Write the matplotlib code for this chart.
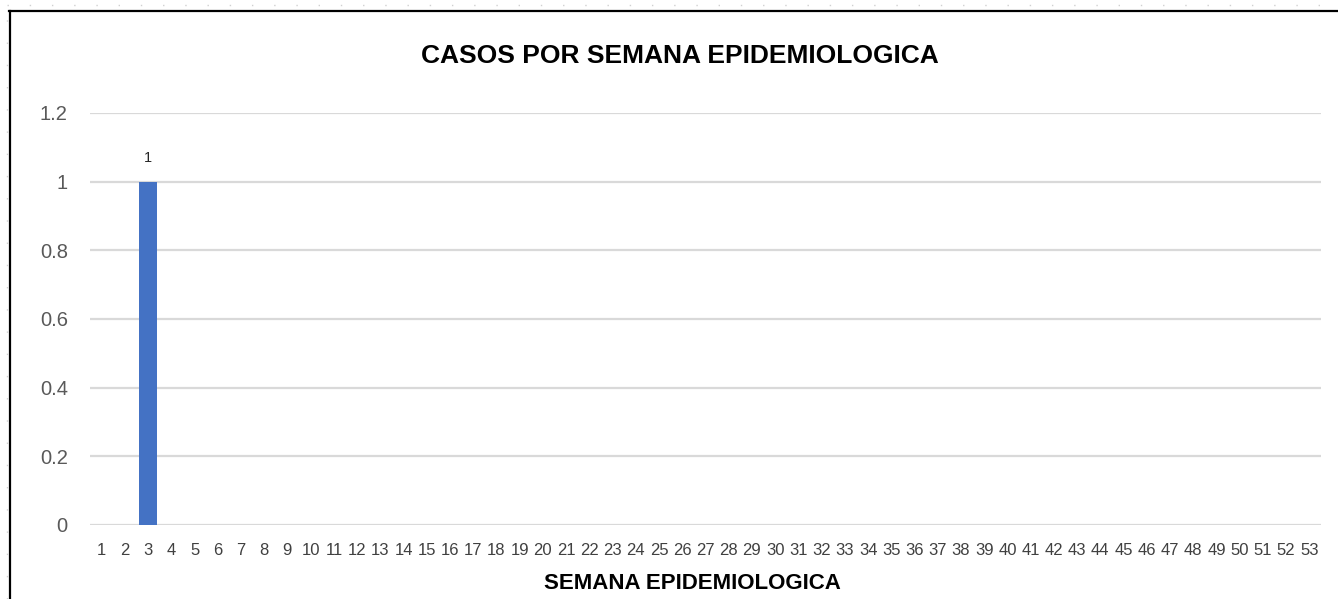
import matplotlib.pyplot as plt
from matplotlib.lines import Line2D

# casos confirmados por semana epidemiologica
semanas = [str(s) for s in range(1, 54)]
casos = [0, 0, 1, 0, 0, 0, 0, 0, 0, 0,
         0, 0, 0, 0, 0, 0, 0, 0, 0, 0,
         0, 0, 0, 0, 0, 0, 0, 0, 0, 0,
         0, 0, 0, 0, 0, 0, 0, 0, 0, 0,
         0, 0, 0, 0, 0, 0, 0, 0, 0, 0,
         0, 0, 0]
yticks = [0, 0.2, 0.4, 0.6, 0.8, 1, 1.2]

plt.rcParams['font.family'] = ['Liberation Sans', 'DejaVu Sans']

W, H = 1338, 599
fig = plt.figure(figsize=(W / 100, H / 100), dpi=100)
ax = fig.add_axes([90 / W, 1 - 525 / H, (1321 - 90) / W, (525 - 113) / H])

x = list(range(len(semanas)))
ax.bar(x, casos, width=0.76, color='#4472c4', zorder=3)

# etiqueta de datos solo para las semanas con casos
for xi, v in zip(x, casos):
    if v > 0:
        ax.annotate(str(v), (xi, v), xytext=(0, 12), textcoords='offset points',
                    ha='center', va='bottom', fontsize=10.5, color='#262626')

ax.set_xlim(-0.5, len(semanas) - 0.5)
ax.set_ylim(0, 1.2)
ax.set_xticks(x)
ax.set_xticklabels(semanas, fontsize=12, color='#404040')
ax.set_yticks(yticks)
ax.set_yticklabels(['0', '0.2', '0.4', '0.6', '0.8', '1', '1.2'], fontsize=14.5, color='#595959')
ax.tick_params(axis='both', length=0)
ax.tick_params(axis='y', pad=16)
ax.tick_params(axis='x', pad=13)
ax.grid(axis='y', color='#d9d9d9', linewidth=1.6, zorder=0)
for s in ax.spines.values():
    s.set_visible(False)

fig.text(680 / W, 1 - 63 / H, 'CASOS POR SEMANA EPIDEMIOLOGICA', ha='center', va='baseline',
         fontsize=19, fontweight='bold', color='black')
fig.text(692 / W, 1 - 589 / H, 'SEMANA EPIDEMIOLOGICA', ha='center', va='baseline',
         fontsize=16, fontweight='bold', color='black')

# marco del grafico
fig.add_artist(Line2D([9.5 / W, 9.5 / W], [0, 1 - 11 / H], color='black', linewidth=1.6))
fig.add_artist(Line2D([9 / W, 1], [1 - 11 / H, 1 - 11 / H], color='black', linewidth=1.6))
fig.add_artist(Line2D([7 / W, 1], [1 - 5 / H, 1 - 5 / H], color='#d0d0d0', linewidth=1,
                      linestyle=(0, (1, 15))))
fig.add_artist(Line2D([7 / W, 7 / W], [0, 1 - 5 / H], color='#d0d0d0', linewidth=1,
                      linestyle=(0, (1, 15))))

fig.savefig('out.png', dpi=100)
